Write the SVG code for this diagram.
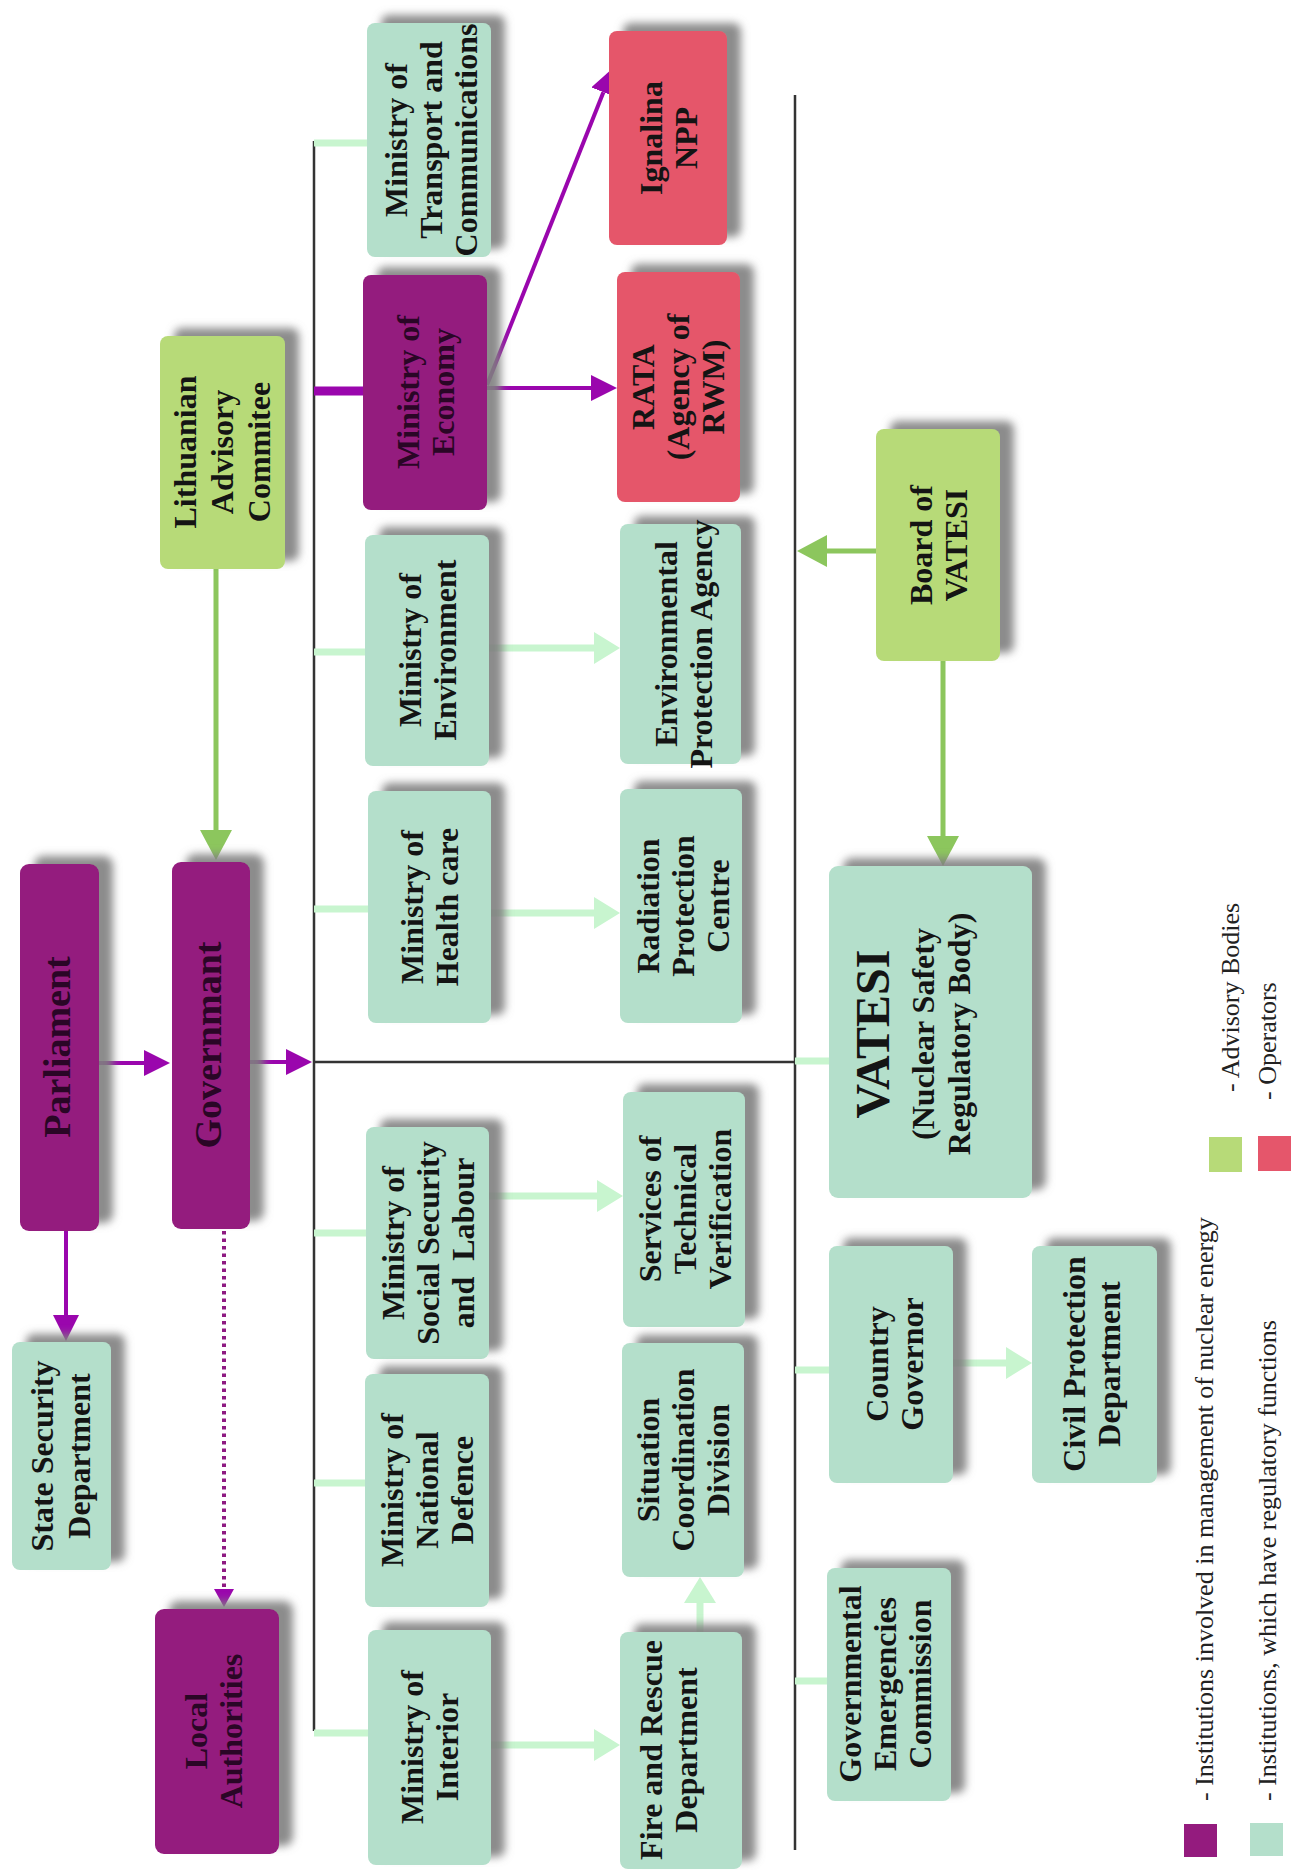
<svg xmlns="http://www.w3.org/2000/svg" width="1291" height="1870" viewBox="0 0 1291 1870">
<style>
.t{font-family:"Liberation Serif","Times New Roman",serif;font-weight:bold;font-size:32px;fill:#141414;text-anchor:middle}
.tp{fill:#2a0626}
.big{font-size:38px}
.lg{font-family:"Liberation Serif","Times New Roman",serif;font-size:26px;fill:#222}
.pu{fill:#941b7e}
.te{fill:#b4dfcb}
.gr{fill:#b7da78}
.re{fill:#e5566b}
.bl{stroke:#333;stroke-width:2.5;fill:none}
.st{stroke:#c8f5cf;stroke-width:7;fill:none}
.la{stroke:#c8f5cf;stroke-width:7;fill:none;marker-end:url(#mL)}
.pa{stroke:#9a06ad;stroke-width:4;fill:none;marker-end:url(#mP)}
.ga{stroke:#8cc65d;stroke-width:5;fill:none;marker-end:url(#mG)}
</style>
<defs>
<filter id="sh" x="-20%" y="-20%" width="150%" height="140%">
<feGaussianBlur in="SourceAlpha" stdDeviation="4"/>
<feOffset dx="14" dy="-8" result="b"/>
<feFlood flood-color="#7f7f7f" flood-opacity="0.9"/>
<feComposite in2="b" operator="in"/>
<feMerge><feMergeNode/><feMergeNode in="SourceGraphic"/></feMerge>
</filter>
<marker id="mP" viewBox="0 0 26 26" markerUnits="userSpaceOnUse" markerWidth="26" markerHeight="26" refX="0" refY="13" orient="auto"><path d="M0,0 L26,13 L0,26 z" fill="#9a06ad"/></marker>
<marker id="mPd" viewBox="0 0 18 20" markerUnits="userSpaceOnUse" markerWidth="18" markerHeight="20" refX="0" refY="10" orient="auto"><path d="M0,0 L18,10 L0,20 z" fill="#9a06ad"/></marker>
<marker id="mG" viewBox="0 0 30 32" markerUnits="userSpaceOnUse" markerWidth="30" markerHeight="32" refX="0" refY="16" orient="auto"><path d="M0,0 L30,16 L0,32 z" fill="#8cc65d"/></marker>
<marker id="mL" viewBox="0 0 26 32" markerUnits="userSpaceOnUse" markerWidth="26" markerHeight="32" refX="0" refY="16" orient="auto"><path d="M0,0 L26,16 L0,32 z" fill="#c8f5cf"/></marker>
</defs>
<rect width="1291" height="1870" fill="#fff"/>

<g id="connectors">
<path class="bl" d="M314,141 V1731 M314,1062 H795 M795,95 V1850"/>
<path class="st" d="M314,143 H367 M314,652 H365 M314,909 H368 M314,1233 H366 M314,1483 H365 M314,1733 H368 M795,1061 H829 M795,1370 H829 M795,1681 H827"/>
<path d="M314,391 H363" stroke="#9a06ad" stroke-width="9" fill="none"/>
<path class="la" d="M489,648 H594"/>
<path class="la" d="M491,913 H594"/>
<path class="la" d="M489,1196 H597"/>
<path class="la" d="M491,1745 H594"/>
<path class="la" d="M700,1632 V1603"/>
<path class="la" d="M953,1363 H1006"/>
<path class="pa" d="M99,1063 H144"/>
<path class="pa" d="M250,1062 H286"/>
<path class="pa" d="M66,1231 V1315"/>
<path class="pa" d="M487,388 H591"/>
<path class="pa" d="M487,385 L603.4,92.2"/>
<path d="M224,1231 V1589" stroke="#8e1a82" stroke-width="4" stroke-dasharray="3.5 4" fill="none" marker-end="url(#mPd)"/>
<path class="ga" d="M216,569 V830"/>
<path class="ga" d="M943,661 V836"/>
<path class="ga" d="M876,551 H827"/>
</g>

<g id="parliament"><rect class="pu" x="20" y="864" width="79" height="367" rx="9" filter="url(#sh)"/>
<text class="t tp big" transform="translate(57 1047) rotate(-90)"><tspan x="0" y="13">Parliament</tspan></text></g>
<g id="government"><rect class="pu" x="172" y="862" width="78" height="367" rx="9" filter="url(#sh)"/>
<text class="t tp big" transform="translate(208 1045) rotate(-90)"><tspan x="0" y="13">Governmant</tspan></text></g>
<g id="state-security"><rect class="te" x="12" y="1342" width="99" height="228" rx="8" filter="url(#sh)"/>
<text class="t" transform="translate(60 1456) rotate(-90)"><tspan x="0" y="-7.3">State Security</tspan><tspan x="0" y="29.7">Department</tspan></text></g>
<g id="local-authorities"><rect class="pu" x="155" y="1609" width="124" height="245" rx="9" filter="url(#sh)"/>
<text class="t tp" transform="translate(213 1731) rotate(-90)"><tspan x="0" y="-6.3">Local</tspan><tspan x="0" y="28.7">Authorities</tspan></text></g>
<g id="advisory-committee"><rect class="gr" x="160" y="336" width="125" height="233" rx="8" filter="url(#sh)"/>
<text class="t" transform="translate(222 452) rotate(-90)"><tspan x="0" y="-25.8">Lithuanian</tspan><tspan x="0" y="11.2">Advisory</tspan><tspan x="0" y="48.2">Commitee</tspan></text></g>

<g id="min-transport"><rect class="te" x="367" y="23" width="124" height="234" rx="8" filter="url(#sh)"/>
<text class="t" transform="translate(431 140) rotate(-90)"><tspan x="0" y="-23.8">Ministry of</tspan><tspan x="0" y="11.2">Transport and</tspan><tspan x="0" y="46.2">Communications</tspan></text></g>
<g id="min-economy"><rect class="pu" x="363" y="275" width="124" height="235" rx="8" filter="url(#sh)"/>
<text class="t tp" transform="translate(425 392) rotate(-90)"><tspan x="0" y="-6.3">Ministry of</tspan><tspan x="0" y="28.7">Economy</tspan></text></g>
<g id="min-environment"><rect class="te" x="365" y="535" width="124" height="231" rx="8" filter="url(#sh)"/>
<text class="t" transform="translate(427 650) rotate(-90)"><tspan x="0" y="-6.3">Ministry of</tspan><tspan x="0" y="28.7">Environment</tspan></text></g>
<g id="min-health"><rect class="te" x="368" y="791" width="123" height="232" rx="8" filter="url(#sh)"/>
<text class="t" transform="translate(429 907) rotate(-90)"><tspan x="0" y="-6.3">Ministry of</tspan><tspan x="0" y="28.7">Health care</tspan></text></g>
<g id="min-social"><rect class="te" x="366" y="1127" width="123" height="232" rx="8" filter="url(#sh)"/>
<text class="t" transform="translate(428 1243) rotate(-90)"><tspan x="0" y="-23.8">Ministry of</tspan><tspan x="0" y="11.2">Social Security</tspan><tspan x="0" y="46.2" xml:space="preserve">and  Labour</tspan></text></g>
<g id="min-defence"><rect class="te" x="365" y="1374" width="124" height="233" rx="8" filter="url(#sh)"/>
<text class="t" transform="translate(427 1490) rotate(-90)"><tspan x="0" y="-23.8">Ministry of</tspan><tspan x="0" y="11.2">National</tspan><tspan x="0" y="46.2">Defence</tspan></text></g>
<g id="min-interior"><rect class="te" x="368" y="1630" width="123" height="235" rx="8" filter="url(#sh)"/>
<text class="t" transform="translate(429 1747) rotate(-90)"><tspan x="0" y="-6.3">Ministry of</tspan><tspan x="0" y="28.7">Interior</tspan></text></g>

<g id="ignalina"><rect class="re" x="609" y="31" width="118" height="214" rx="8" filter="url(#sh)"/>
<text class="t" transform="translate(668 138) rotate(-90)"><tspan x="0" y="-6.3">Ignalina</tspan><tspan x="0" y="28.7">NPP</tspan></text></g>
<g id="rata"><rect class="re" x="617" y="272" width="123" height="230" rx="8" filter="url(#sh)"/>
<text class="t" transform="translate(678 387) rotate(-90)"><tspan x="0" y="-23.8">RATA</tspan><tspan x="0" y="11.2">(Agency of</tspan><tspan x="0" y="46.2">RWM)</tspan></text></g>
<g id="env-protection"><rect class="te" x="620" y="524" width="121" height="240" rx="8" filter="url(#sh)"/>
<text class="t" transform="translate(683 644) rotate(-90)"><tspan x="0" y="-6.3">Environmental</tspan><tspan x="0" y="28.7">Protection Agency</tspan></text></g>
<g id="radiation"><rect class="te" x="620" y="789" width="122" height="234" rx="8" filter="url(#sh)"/>
<text class="t" transform="translate(683 906) rotate(-90)"><tspan x="0" y="-23.8">Radiation</tspan><tspan x="0" y="11.2">Protection</tspan><tspan x="0" y="46.2">Centre</tspan></text></g>
<g id="services"><rect class="te" x="623" y="1092" width="122" height="235" rx="8" filter="url(#sh)"/>
<text class="t" transform="translate(685 1209) rotate(-90)"><tspan x="0" y="-23.8">Services of</tspan><tspan x="0" y="11.2">Technical</tspan><tspan x="0" y="46.2">Verification</tspan></text></g>
<g id="situation"><rect class="te" x="622" y="1343" width="122" height="234" rx="8" filter="url(#sh)"/>
<text class="t" transform="translate(683 1460) rotate(-90)"><tspan x="0" y="-23.8">Situation</tspan><tspan x="0" y="11.2">Coordination</tspan><tspan x="0" y="46.2">Division</tspan></text></g>
<g id="fire-rescue"><rect class="te" x="620" y="1632" width="122" height="237" rx="8" filter="url(#sh)"/>
<text class="t" transform="translate(668 1750) rotate(-90)"><tspan x="0" y="-6.3">Fire and Rescue</tspan><tspan x="0" y="28.7">Department</tspan></text></g>

<g id="board-vatesi"><rect class="gr" x="876" y="429" width="124" height="232" rx="8" filter="url(#sh)"/>
<text class="t" transform="translate(938 545) rotate(-90)"><tspan x="0" y="-6.3">Board of</tspan><tspan x="0" y="28.7">VATESI</tspan></text></g>
<g id="vatesi"><rect class="te" x="829" y="866" width="203" height="332" rx="9" filter="url(#sh)"/>
<text class="t" transform="translate(0 1034) rotate(-90)"><tspan x="0" y="889" style="font-size:48px">VATESI</tspan><tspan x="0" y="934">(Nuclear Safety</tspan><tspan x="0" y="970">Regulatory Body)</tspan></text></g>
<g id="country-governor"><rect class="te" x="829" y="1246" width="124" height="237" rx="8" filter="url(#sh)"/>
<text class="t" transform="translate(894 1364) rotate(-90)"><tspan x="0" y="-6.3">Country</tspan><tspan x="0" y="28.7">Governor</tspan></text></g>
<g id="gov-emergencies"><rect class="te" x="827" y="1568" width="124" height="233" rx="8" filter="url(#sh)"/>
<text class="t" transform="translate(885 1684) rotate(-90)"><tspan x="0" y="-23.8">Governmental</tspan><tspan x="0" y="11.2">Emergencies</tspan><tspan x="0" y="46.2">Commission</tspan></text></g>
<g id="civil-protection"><rect class="te" x="1032" y="1246" width="125" height="237" rx="8" filter="url(#sh)"/>
<text class="t" transform="translate(1091 1364) rotate(-90)"><tspan x="0" y="-6.3">Civil Protection</tspan><tspan x="0" y="28.7">Department</tspan></text></g>

<g id="legend">
<rect class="pu" x="1184" y="1824" width="33" height="33"/>
<rect class="te" x="1250" y="1823" width="33" height="33"/>
<rect class="gr" x="1209" y="1137" width="33" height="35"/>
<rect class="re" x="1258" y="1136" width="33" height="35"/>
<text class="lg" transform="translate(1213 1801) rotate(-90)">- Institutions involved in management of nuclear energy</text>
<text class="lg" transform="translate(1276 1801) rotate(-90)">- Institutions, which have regulatory functions</text>
<text class="lg" transform="translate(1239 1092) rotate(-90)">- Advisory Bodies</text>
<text class="lg" transform="translate(1276 1100) rotate(-90)">- Operators</text>
</g>
</svg>
